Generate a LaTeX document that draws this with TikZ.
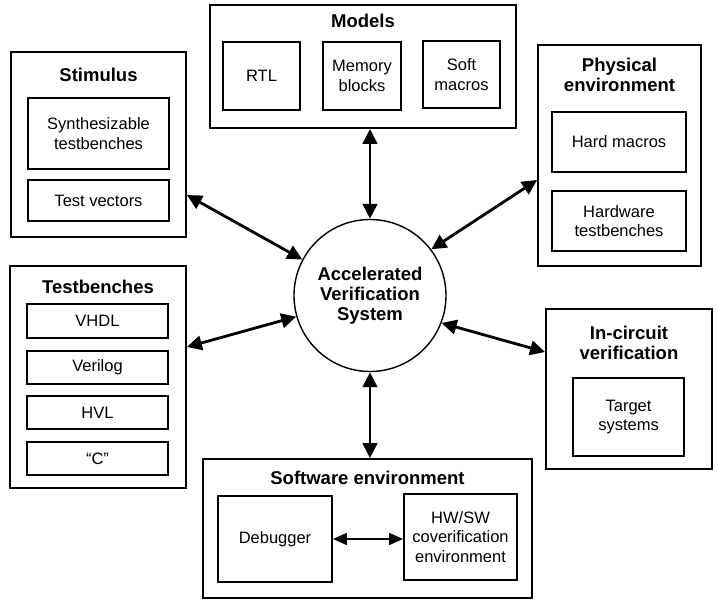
\documentclass[tikz,border=0pt]{standalone}
\usepackage{fontspec}
\setmainfont{Liberation Sans}
\usetikzlibrary{arrows.meta}
\newcommand{\innerfont}{\fontsize{16.5}{19.5}\selectfont}
\newcommand{\titlefont}{\fontsize{18.5}{20}\selectfont\bfseries}
\tikzset{
  outerbox/.style={draw, line width=1.8pt, inner sep=0pt},
  innerbox/.style={draw, line width=1.8pt, inner sep=0pt, align=center, font=\innerfont},
  ttl/.style={inner sep=0pt, align=center, font=\titlefont},
  dbl/.style={line width=2.8pt, {Triangle[length=15pt,width=14.5pt]}-{Triangle[length=15pt,width=14.5pt]}},
  thinarr/.style={line width=1.6pt, {Triangle[length=14pt,width=12pt]}-{Triangle[length=14pt,width=12pt]}},
}
\begin{document}
\begin{tikzpicture}[x=1pt,y=-1pt]
\useasboundingbox (0,0) rectangle (718,602);

% Stimulus
\node[outerbox, minimum width=175pt, minimum height=185pt] (stim) at (98.5,144.5) {};
\node[ttl] (stimT) at (98.5,75) {Stimulus};
\node[innerbox, minimum width=141pt, minimum height=71pt] (synth) at (98.5,133.5) {Synthesizable\\testbenches};
\node[innerbox, minimum width=141pt, minimum height=41pt] (tvec) at (98.5,200.5) {Test vectors};

% Models
\node[outerbox, minimum width=306pt, minimum height=123pt] (models) at (363,66.5) {};
\node[ttl] (modelsT) at (363,21) {Models};
\node[innerbox, minimum width=77pt, minimum height=68pt] (rtl) at (261.5,76) {RTL};
\node[innerbox, minimum width=78pt, minimum height=68pt] (mem) at (362,76) {Memory\\blocks};
\node[innerbox, minimum width=77pt, minimum height=67pt] (soft) at (461.5,74.5) {Soft\\macros};

% Physical environment
\node[outerbox, minimum width=163pt, minimum height=221pt] (phys) at (619.5,155.5) {};
\node[ttl] (physT) at (619.5,75) {Physical\\environment};
\node[innerbox, minimum width=134pt, minimum height=60pt] (hard) at (619,142) {Hard macros};
\node[innerbox, minimum width=134pt, minimum height=60pt] (hwtb) at (619,221) {Hardware\\testbenches};

% Testbenches
\node[outerbox, minimum width=176pt, minimum height=222pt] (tb) at (98,377) {};
\node[ttl] (tbT) at (98,287) {Testbenches};
\node[innerbox, minimum width=141pt, minimum height=34pt] (vhdl) at (97.5,321) {VHDL};
\node[innerbox, minimum width=141pt, minimum height=33pt] (vlog) at (97.5,367.5) {Verilog};
\node[innerbox, minimum width=141pt, minimum height=33pt] (hvl) at (97.5,412.5) {HVL};
\node[innerbox, minimum width=141pt, minimum height=33pt] (cc) at (97.5,458.5) {“C”};

% Software environment
\node[outerbox, minimum width=329pt, minimum height=139pt] (sw) at (367.5,528.5) {};
\node[ttl] (swT) at (367.5,478) {Software environment};
\node[innerbox, minimum width=114pt, minimum height=86pt] (dbg) at (275,539) {Debugger};
\node[innerbox, minimum width=113pt, minimum height=86pt] (hwsw) at (460.5,537) {HW/SW\\coverification\\environment};

% In-circuit verification
\node[outerbox, minimum width=166pt, minimum height=160pt] (ic) at (629,389) {};
\node[ttl] (icT) at (629,343) {In-circuit\\verification};
\node[innerbox, minimum width=111pt, minimum height=78pt] (tgt) at (628.5,417) {Target\\systems};

% Centre
\node[circle, draw, line width=1.4pt, minimum size=152pt, inner sep=0pt, align=center, font=\titlefont] (avs) at (370,295.5) {Accelerated\\Verification\\System};

% Connectors
\draw[dbl] ([yshift=-50.5pt]stim.east) -- (avs.152);
\draw[dbl] (avs.north |- models.south) -- (avs.north);
\draw[dbl] ([yshift=-24.5pt]phys.west) -- (avs.37);
\draw[dbl] ([yshift=30pt]tb.east) -- (avs.196);
\draw[dbl] ([yshift=37pt]ic.west) -- (avs.-21);
\draw[dbl] (avs.south) -- (avs.south |- sw.north);
\draw[thinarr] (dbg.east) -- (dbg.east -| hwsw.west);
\end{tikzpicture}
\end{document}
